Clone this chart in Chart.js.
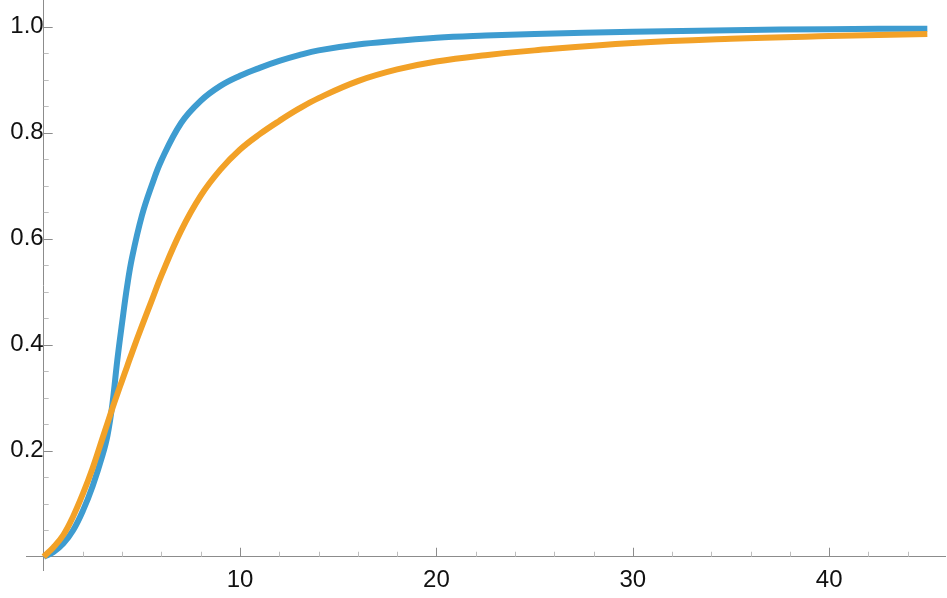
<!DOCTYPE html>
<html>
<head>
<meta charset="utf-8">
<script src="https://cdn.jsdelivr.net/npm/chart.js@4/dist/chart.umd.min.js"></script>
<style>
    html, body { margin: 0; padding: 0; background: #ffffff; }
    #wrap { width: 947px; height: 598px; }
</style>
</head>
<body>
<div id="wrap"><canvas id="cdfChart" width="947" height="598"></canvas></div>
<script>
const xValues = [0, 0.5, 1, 1.5, 2, 2.5, 3, 3.25, 3.5, 3.75, 4, 4.25, 4.5, 5, 5.5, 6, 7, 8, 9, 10, 11, 12, 13, 14, 16, 18, 20, 22.5, 25, 30, 35, 40, 45];
const blueValues = [0, 0.009, 0.025, 0.050, 0.087, 0.134, 0.192, 0.229, 0.288, 0.371, 0.443, 0.510, 0.564, 0.643, 0.700, 0.748, 0.818, 0.860, 0.888, 0.907, 0.922, 0.935, 0.946, 0.955, 0.966, 0.973, 0.979, 0.983, 0.986, 0.990, 0.993, 0.995, 0.996];
const orangeValues = [0, 0.018, 0.041, 0.076, 0.119, 0.168, 0.224, 0.252, 0.280, 0.307, 0.333, 0.359, 0.385, 0.435, 0.483, 0.531, 0.615, 0.681, 0.730, 0.768, 0.797, 0.822, 0.845, 0.865, 0.897, 0.919, 0.934, 0.946, 0.955, 0.969, 0.977, 0.982, 0.986];

const xMajorTicks = [10, 20, 30, 40];
const xMinorTicks = [2, 4, 6, 8, 12, 14, 16, 18, 22, 24, 26, 28, 32, 34, 36, 38, 42, 44];
const yMajorTicks = [0.2, 0.4, 0.6, 0.8, 1.0];
const yMinorTicks = [0.05, 0.1, 0.15, 0.25, 0.3, 0.35, 0.45, 0.5, 0.55, 0.65, 0.7, 0.75, 0.85, 0.9, 0.95];

const axisColor = '#8c8c8c';
const minorColor = '#bdbdbd';
const labelFont = { family: "'Liberation Sans', Arial, sans-serif", size: 24 };

function toPoints(values) {
    return xValues.map((x, i) => ({ x: x, y: values[i] }));
}

// axes sit inside the plot, so drop the label overflow padding
function noPadding(scale) {
    scale.paddingTop = 0;
    scale.paddingBottom = 0;
    scale.paddingLeft = 0;
    scale.paddingRight = 0;
}

// tick marks point inwards, so draw them here instead of using the grid
const innerTicks = {
    id: 'innerTicks',
    beforeDatasetsDraw(chart) {
        const ctx = chart.ctx;
        const xs = chart.scales.x;
        const ys = chart.scales.y;
        const x0 = xs.getPixelForValue(0);
        const y0 = ys.getPixelForValue(0);
        ctx.save();
        ctx.lineWidth = 1;
        const mark = (color, len, list, horiz) => {
            ctx.strokeStyle = color;
            ctx.beginPath();
            list.forEach(v => {
                if (horiz) {
                    const p = Math.round(xs.getPixelForValue(v)) + 0.5;
                    ctx.moveTo(p, y0);
                    ctx.lineTo(p, y0 - len);
                } else {
                    const p = Math.round(ys.getPixelForValue(v)) + 0.5;
                    ctx.moveTo(x0, p);
                    ctx.lineTo(x0 + len, p);
                }
            });
            ctx.stroke();
        };
        mark(minorColor, 5, xMinorTicks, true);
        mark(minorColor, 5, yMinorTicks, false);
        mark(axisColor, 9, xMajorTicks, true);
        mark(axisColor, 9, yMajorTicks, false);
        ctx.restore();
    }
};

function initCdfChart() {
    const ctx = document.getElementById('cdfChart').getContext('2d');
    new Chart(ctx, {
        type: 'line',
        data: {
            datasets: [
                {
                    label: 'orange',
                    data: toPoints(orangeValues),
                    borderColor: '#f2a127',
                    borderWidth: 6,
                    pointRadius: 0,
                    tension: 0.4,
                    order: 0
                },
                {
                    label: 'blue',
                    data: toPoints(blueValues),
                    borderColor: '#3e9cd0',
                    borderWidth: 6,
                    pointRadius: 0,
                    tension: 0.4,
                    order: 1
                }
            ]
        },
        options: {
            responsive: false,
            animation: false,
            events: [],
            layout: { autoPadding: false, padding: { left: 26, right: 2, top: 0, bottom: 28 } },
            plugins: { legend: { display: false }, tooltip: { enabled: false } },
            scales: {
                x: {
                    type: 'linear',
                    min: -0.9,
                    max: 45.9,
                    position: { y: 0 },
                    afterBuildTicks: s => { s.ticks = xMajorTicks.map(v => ({ value: v })); },
                    afterFit: noPadding,
                    grid: { display: false, drawTicks: false },
                    border: { display: true, color: axisColor, width: 1 },
                    ticks: { font: labelFont, color: '#111', padding: 9, maxRotation: 0, autoSkip: false, callback: v => String(v) }
                },
                y: {
                    type: 'linear',
                    min: -0.025,
                    max: 1.05,
                    position: { x: 0 },
                    afterBuildTicks: s => { s.ticks = yMajorTicks.map(v => ({ value: v })); },
                    afterFit: noPadding,
                    grid: { display: false, drawTicks: false },
                    border: { display: true, color: axisColor, width: 1 },
                    ticks: { font: labelFont, color: '#111', padding: 9, autoSkip: false, callback: v => v.toFixed(1) }
                }
            }
        },
        plugins: [innerTicks]
    });
}

initCdfChart();
</script>
</body>
</html>
